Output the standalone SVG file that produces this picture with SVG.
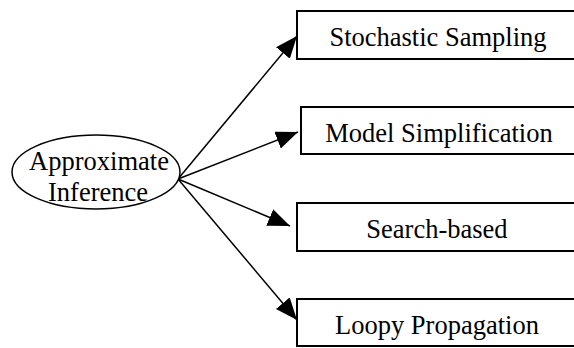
<svg xmlns="http://www.w3.org/2000/svg" width="574" height="348" viewBox="0 0 574 348">
<style>
.box{fill:#fff;stroke:#000;stroke-width:2}
.lbl{font-family:'Liberation Serif','Times New Roman',serif;font-size:26.5px;fill:#000;text-anchor:middle}
.edge{fill:none;stroke:#000;stroke-width:1.5}
</style>
<defs>
<marker id="ah" markerUnits="userSpaceOnUse" markerWidth="26" markerHeight="22" refX="22" refY="9" orient="auto">
<path d="M0,0 L22,9 L0,18 z" fill="#000"/>
</marker>
</defs>
<rect width="574" height="348" fill="#fff"/>
<g id="connectors">
<path class="edge" d="M178,179 L297,36" marker-end="url(#ah)"/>
<path class="edge" d="M178,179 L298,132" marker-end="url(#ah)"/>
<path class="edge" d="M178,179 L290,226" marker-end="url(#ah)"/>
<path class="edge" d="M178,179 L297,320" marker-end="url(#ah)"/>
</g>
<g id="approx">
<ellipse cx="96" cy="172" rx="84" ry="37" fill="#fff" stroke="#000" stroke-width="1.5"/>
<text class="lbl" x="99" y="170">Approximate</text>
<text class="lbl" x="98" y="201">Inference</text>
</g>
<g id="stochastic">
<rect class="box" x="297" y="11" width="290" height="48"/>
<text class="lbl" x="438" y="46">Stochastic Sampling</text>
</g>
<g id="model">
<rect class="box" x="301" y="107" width="290" height="47"/>
<text class="lbl" x="439" y="142">Model Simplification</text>
</g>
<g id="search">
<rect class="box" x="297" y="203" width="290" height="48"/>
<text class="lbl" x="437" y="238">Search-based</text>
</g>
<g id="loopy">
<rect class="box" x="297" y="299" width="290" height="47"/>
<text class="lbl" x="437" y="334">Loopy Propagation</text>
</g>
</svg>
